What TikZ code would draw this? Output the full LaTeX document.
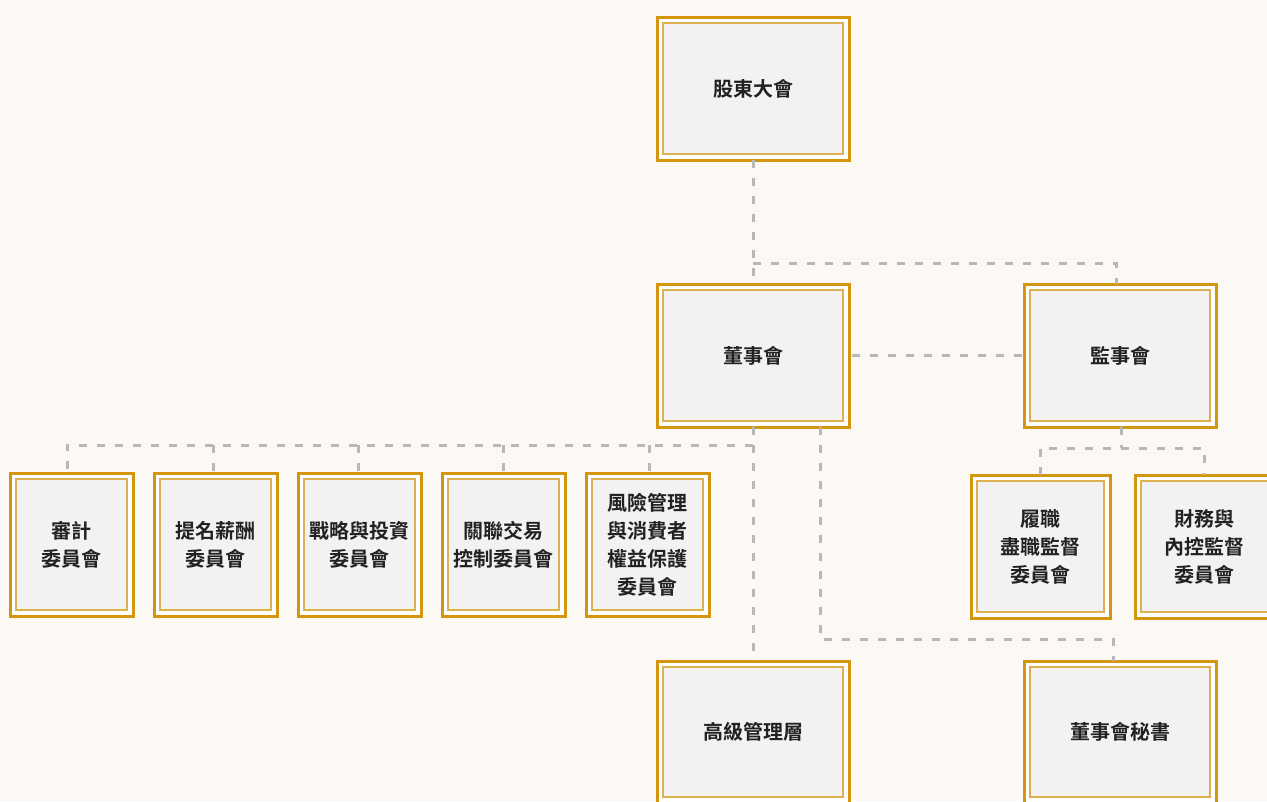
\documentclass[tikz,border=0pt]{standalone}
\usepackage{fontspec}
\newfontfamily\cjk{Noto Sans CJK TC}[BoldFont={* Bold}]
\usetikzlibrary{positioning,calc}
\definecolor{bg}{HTML}{FCF9F4}
\definecolor{goldout}{HTML}{D4960F}
\definecolor{goldin}{HTML}{DDB050}
\definecolor{boxfill}{HTML}{F2F2F2}
\definecolor{dashgray}{HTML}{B8B8B8}
\definecolor{txt}{HTML}{222222}
\tikzset{
  outerbox/.style={draw=goldout,line width=3pt,fill=white,inner sep=0pt,outer sep=0pt},
  innerbox/.style={draw=goldin,line width=1.2pt,fill=boxfill,inner sep=0pt,align=center,
    text=txt,font=\cjk\bfseries\fontsize{20}{28}\selectfont},
  conn/.style={draw=dashgray,line width=3pt,dash pattern=on 8pt off 10pt}
}
\newcommand{\orgbox}[6]{%
  \node[outerbox,minimum width=#4pt,minimum height=#5pt] (#1) at (#2,#3) {};
  \node[innerbox,minimum width=#4pt-12pt,minimum height=#5pt-12pt] (#1-in) at (#2,#3) {#6};
}
\begin{document}
\begin{tikzpicture}[x=1pt,y=-1pt]
\fill[bg] (0,0) rectangle (1267,801);
\useasboundingbox (0,0) rectangle (1267,801);
\coordinate (j1) at (753,263);
\coordinate (j2) at (1116,263);
\coordinate (d1) at (753,445);
\coordinate (d2) at (67,445);
\coordinate (s1) at (820,639);
\coordinate (s2) at (1113,639);
\coordinate (m1) at (1121,448);
\coordinate (m2) at (1040,448);
\coordinate (m3) at (1204,448);
\coordinate (boardbot2) at (820,427);

\orgbox{share}{753}{88.5}{192}{143}{股東大會}
\orgbox{board}{753}{355.5}{192}{143}{董事會}
\orgbox{sup}{1120}{355.5}{192}{143}{監事會}
\orgbox{c1}{71.5}{544.5}{123}{143}{審計\\委員會}
\orgbox{c2}{215.5}{544.5}{123}{143}{提名薪酬\\委員會}
\orgbox{c3}{359.5}{544.5}{123}{143}{戰略與投資\\委員會}
\orgbox{c4}{503.5}{544.5}{123}{143}{關聯交易\\控制委員會}
\orgbox{c5}{647.5}{544.5}{123}{143}{風險管理\\與消費者\\權益保護\\委員會}
\orgbox{s1b}{1040.5}{546.5}{139}{143}{履職\\盡職監督\\委員會}
\orgbox{s2b}{1204.5}{546.5}{139}{143}{財務與\\內控監督\\委員會}
\orgbox{mgmt}{753}{732}{192}{142}{高級管理層}
\orgbox{sec}{1120}{732}{192}{142}{董事會秘書}

\path[conn] (share.south) -- (j1) -- (board.north);
\path[conn] (j1) -- (j2) -- (j2 |- sup.north);
\path[conn] ([xshift=3pt]board.east) -- (sup.west);
\path[conn] (board.south) -- (mgmt.north);
\path[conn] (d1) -- (d2) -- (d2 |- c1.north);
\path[conn] (213,445) -- (213,473);
\path[conn] (358,445) -- (358,473);
\path[conn] (503,445) -- (503,473);
\path[conn] (649,445) -- (649,473);
\path[conn] (board.south -| boardbot2) -- (s1) -- (s2) -- (s2 |- sec.north);
\path[conn] (sup.south -| m1) -- (m1);
\path[conn] (m2 |- s1b.north) -- (m2) -- (m3) -- (m3 |- s2b.north);
\end{tikzpicture}
\end{document}
